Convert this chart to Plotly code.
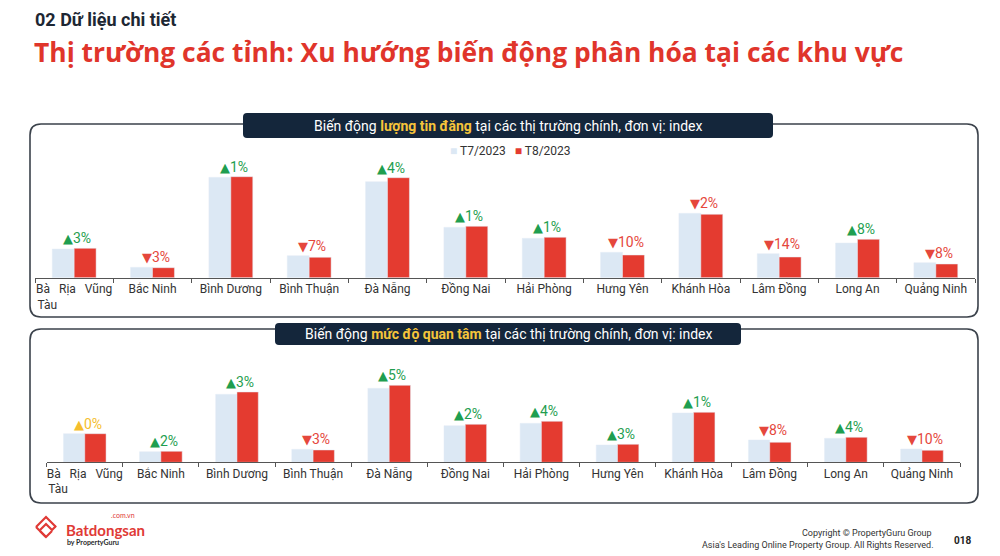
import plotly.graph_objects as go

W, H = 1000, 556
PAGE_OFFSET = 8  # the page body margin shifts the figure by this many pixels

provinces = ["Bà Rịa Vũng Tàu", "Bắc Ninh", "Bình Dương", "Bình Thuận", "Đà Nẵng", "Đồng Nai",
             "Hải Phòng", "Hưng Yên", "Khánh Hòa", "Lâm Đồng", "Long An", "Quảng Ninh"]
tick_labels = ["Bà   Rịa   Vũng<br>Tàu" + "\u00a0" * 18, "Bắc Ninh", "Bình Dương", "Bình Thuận",
               "Đà Nẵng", "Đồng Nai", "Hải Phòng", "Hưng Yên", "Khánh Hòa", "Lâm Đồng",
               "Long An", "Quảng Ninh"]

# luong tin dang (index)
listing_t7 = [28.7, 10.4, 100.4, 22.0, 96.0, 50.4, 39.4, 25.4, 64.4, 24.0, 34.7, 15.0]
listing_t8 = [29.4, 10.0, 101.0, 20.4, 100.0, 51.4, 40.4, 22.7, 63.4, 20.7, 38.4, 13.7]
listing_change = [3, -3, 1, -7, 4, 1, 1, -10, -2, -14, 8, -8]

# muc do quan tam (index)
interest_t7 = [28.6, 10.6, 68.0, 13.0, 74.0, 36.6, 39.0, 17.3, 49.3, 22.3, 24.0, 13.3]
interest_t8 = [28.6, 11.0, 70.3, 12.3, 77.0, 38.0, 41.0, 18.0, 50.0, 20.0, 25.0, 12.0]
interest_change = [0, 2, 3, -3, 5, 2, 4, 3, 1, -8, 4, -10]

series_names = ["T7/2023", "T8/2023"]

C_T7 = "#dce8f4"
C_T8 = "#e43b30"
GREEN, RED, YELLOW = "#1f9e50", "#e5473c", "#f5be2e"
NAVY = "#14263b"
GOLD = "#f6c43a"
FONT = "Roboto"


def X(px):
    return (px - PAGE_OFFSET) / W


def Y(py):
    return 1 - (py - PAGE_OFFSET) / H


def rrect(x0, y0, x1, y1, r):
    pts = [("M", x0 + r, y0), ("L", x1 - r, y0), ("Q", x1, y0, x1, y0 + r),
           ("L", x1, y1 - r), ("Q", x1, y1, x1 - r, y1), ("L", x0 + r, y1),
           ("Q", x0, y1, x0, y1 - r), ("L", x0, y0 + r), ("Q", x0, y0, x0 + r, y0)]
    out = ""
    for p in pts:
        cmd, vals = p[0], p[1:]
        coords = []
        for i in range(0, len(vals), 2):
            coords.append(f"{X(vals[i]):.5f},{Y(vals[i + 1]):.5f}")
        out += cmd + " " + " ".join(coords) + " "
    return out + "Z"


def change_text(v):
    tri = "<span style='font-family:DejaVu Sans;font-size:13px'>{}</span>"
    if v > 0:
        return tri.format("▲") + f"{v}%", GREEN
    if v < 0:
        return tri.format("▼") + f"{abs(v)}%", RED
    return tri.format("▲") + f"{v}%", YELLOW


def note(x, y, text, size, color, family=FONT, xanchor="center"):
    return dict(x=X(x), y=Y(y), xref="paper", yref="paper", showarrow=False,
                xanchor=xanchor, yanchor="middle", text=text,
                font=dict(family=family, size=size, color=color))


fig = go.Figure()
fig.add_trace(go.Bar(x=provinces, y=listing_t7, name=series_names[0], marker_color=C_T7,
                     xaxis="x", yaxis="y"))
fig.add_trace(go.Bar(x=provinces, y=listing_t8, name=series_names[1], marker_color=C_T8,
                     xaxis="x", yaxis="y"))
fig.add_trace(go.Bar(x=provinces, y=interest_t7, name=series_names[0], marker_color=C_T7,
                     xaxis="x2", yaxis="y2"))
fig.add_trace(go.Bar(x=provinces, y=interest_t8, name=series_names[1], marker_color=C_T8,
                     xaxis="x2", yaxis="y2"))

annotations = []
for xa, ya, t7, t8, ch in [("x", "y", listing_t7, listing_t8, listing_change),
                           ("x2", "y2", interest_t7, interest_t8, interest_change)]:
    for p, a, b, c in zip(provinces, t7, t8, ch):
        txt, col = change_text(c)
        annotations.append(dict(x=p, y=max(a, b), xref=xa, yref=ya, text=txt, showarrow=False,
                                xanchor="center", yanchor="bottom", xshift=3, yshift=0,
                                font=dict(family=FONT, size=14, color=col)))

# legend of the top panel
annotations.append(note(510, 151,
                        f"<span style='color:{C_T7}'>■</span> {series_names[0]}"
                        f"\u00a0\u00a0\u00a0<span style='color:{C_T8}'>■</span> {series_names[1]}",
                        12, "#333333"))

# panel headers
annotations.append(note(508, 125.5,
                        f"Biến động <b><span style='color:{GOLD}'>lượng tin đăng</span></b> tại các thị trường chính, đơn vị: index",
                        14, "white"))
annotations.append(note(508, 334,
                        f"Biến động <b><span style='color:{GOLD}'>mức độ quan tâm</span></b> tại các thị trường chính, đơn vị: index",
                        14, "white"))

# titles
annotations.append(note(33, 20, "<b>02 Dữ liệu chi tiết</b>", 18, "#1d2733", xanchor="left"))
annotations.append(note(32, 52,
                        "<b>Thị trường các tỉnh: Xu hướng biến động phân hóa tại các khu vực</b>",
                        26.4, "#e0352b", family="Open Sans", xanchor="left"))

# footer
annotations += [
    note(64, 530, "<b>Batdongsan</b>", 15, "#e03a36", family="Lato", xanchor="left"),
    note(137, 515, ".com.vn", 7, "#e03a36", family="Lato", xanchor="right"),
    note(65, 542, "<b>by PropertyGuru</b>", 7, "#2a2a2a", family="Lato", xanchor="left"),
    note(934, 533, "Copyright © PropertyGuru Group", 9, "#333333", xanchor="right"),
    note(936, 545, "Asia's Leading Online Property Group. All Rights Reserved.", 9, "#333333",
         xanchor="right"),
    note(962, 540, "<b>018</b>", 10, "#222222"),
]

shapes = [
    dict(type="path", path=rrect(30, 124, 978, 317, 11), xref="paper", yref="paper",
         line=dict(color="#3b424b", width=1.6), fillcolor="white", layer="below"),
    dict(type="path", path=rrect(30, 329, 978, 503, 11), xref="paper", yref="paper",
         line=dict(color="#3b424b", width=1.6), fillcolor="white", layer="below"),
    dict(type="path", path=rrect(243, 113, 773, 138, 4), xref="paper", yref="paper",
         line=dict(width=0), fillcolor=NAVY, layer="below"),
    dict(type="path", path=rrect(275, 323, 741, 345, 4), xref="paper", yref="paper",
         line=dict(width=0), fillcolor=NAVY, layer="below"),
]

# logo icon
icon = [
    [(36, 527), (46, 517), (56, 527)],
    [(40, 530), (46, 524), (52, 530), (56, 526)],
    [(36, 527), (46, 537), (52, 531)],
    [(40, 531), (46, 537)],
]
for line in icon:
    d = "M " + " L ".join(f"{X(a):.5f},{Y(b):.5f}" for a, b in line)
    shapes.append(dict(type="path", path=d, xref="paper", yref="paper",
                       line=dict(color="#e03a36", width=2.2)))

axis_x = dict(type="category", tickvals=provinces, ticktext=tick_labels, ticks="outside",
              tickson="boundaries", ticklen=4, tickcolor="#555", showline=True,
              linecolor="#555", linewidth=1, showgrid=False, fixedrange=True,
              tickangle=0, automargin=False,
              tickfont=dict(family=FONT, size=12, color="#333333"))

fig.update_layout(
    width=W, height=H, margin=dict(l=0, r=0, t=0, b=0),
    paper_bgcolor="white", plot_bgcolor="rgba(0,0,0,0)",
    barmode="group", bargap=0.44, bargroupgap=0, showlegend=False,
    xaxis=dict(axis_x, domain=[X(35), X(975)], anchor="y"),
    yaxis=dict(domain=[Y(277.7), Y(157.7)], range=[0, 120], visible=False, automargin=False),
    xaxis2=dict(axis_x, domain=[X(46.7), X(960)], anchor="y2"),
    yaxis2=dict(domain=[Y(462.3), Y(362.3)], range=[0, 100], visible=False, automargin=False),
    annotations=annotations, shapes=shapes,
)

fig.write_html("out.html")
